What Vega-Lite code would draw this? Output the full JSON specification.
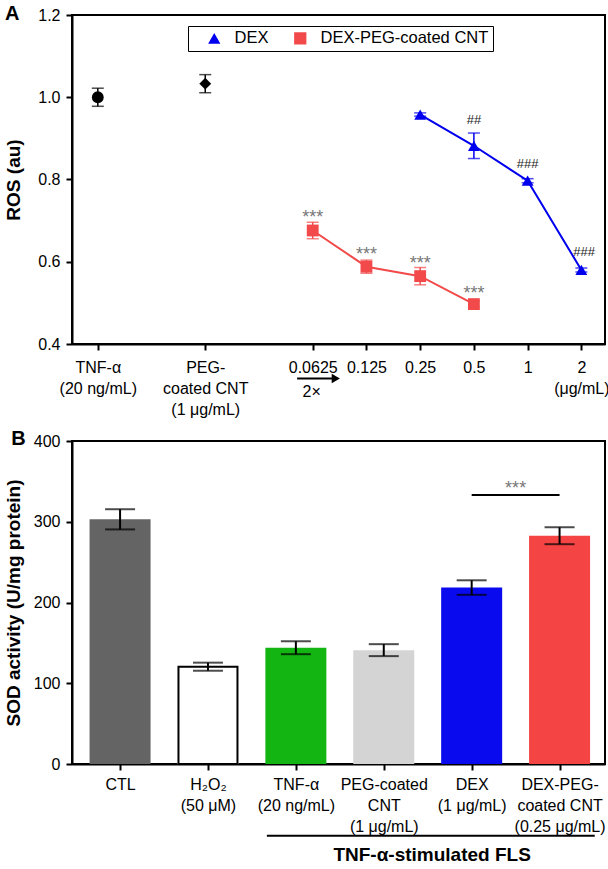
{
  "$schema": "https://vega.github.io/schema/vega-lite/v6.json",
  "background": "white",
  "padding": {"left": 3, "top": 2, "right": 0, "bottom": 0},
  "bounds": "flush",
  "spacing": 97,
  "resolve": {"scale": {"color": "independent", "shape": "independent"}},
  "config": {
    "font": "Liberation Sans",
    "view": {"stroke": "black", "strokeWidth": 2},
    "axis": {
      "domainColor": "black", "domainWidth": 2, "tickColor": "black", "tickWidth": 2, "tickSize": 6,
      "labelFont": "Liberation Sans", "labelFontSize": 16, "labelColor": "black", "labelPadding": 5,
      "labelLineHeight": 21, "labelOverlap": false, "labelFlush": false, "labelBound": false,
      "titleFont": "Liberation Sans", "titleFontSize": 19, "titleFontWeight": "bold", "titleColor": "black",
      "grid": false
    },
    "legend": {
      "labelFont": "Liberation Sans", "labelFontSize": 16.5, "labelColor": "black", "labelLimit": 300
    }
  },
  "datasets": {
    "ros": [
      {"pos": 0, "ros": 1.000, "sd": 0.022, "series": "TNF-α"},
      {"pos": 2, "ros": 1.033, "sd": 0.022, "series": "PEG-coated CNT"},
      {"pos": 6, "ros": 0.958, "sd": 0.004, "series": "DEX"},
      {"pos": 7, "ros": 0.882, "sd": 0.031, "series": "DEX"},
      {"pos": 8, "ros": 0.797, "sd": 0.005, "series": "DEX"},
      {"pos": 9, "ros": 0.580, "sd": 0.005, "series": "DEX"},
      {"pos": 4, "ros": 0.676, "sd": 0.020, "series": "DEX-PEG-coated CNT"},
      {"pos": 5, "ros": 0.588, "sd": 0.016, "series": "DEX-PEG-coated CNT"},
      {"pos": 6, "ros": 0.565, "sd": 0.021, "series": "DEX-PEG-coated CNT"},
      {"pos": 7, "ros": 0.497, "sd": 0.008, "series": "DEX-PEG-coated CNT"}
    ],
    "hash": [
      {"pos": 7, "y": 0.945, "label": "##"},
      {"pos": 8, "y": 0.838, "label": "###"},
      {"pos": 9.05, "y": 0.623, "label": "###"}
    ],
    "star": [
      {"pos": 4, "y": 0.706, "label": "***"},
      {"pos": 5, "y": 0.617, "label": "***"},
      {"pos": 6, "y": 0.595, "label": "***"},
      {"pos": 7, "y": 0.522, "label": "***"}
    ],
    "arrow": [{"x": 3.71, "x2": 4.42, "y": 0.316, "head": 4.43, "tx": 3.98, "ty": 0.283, "label": "2×"}],
    "panelA": [{"x": -1.728, "y": 1.188, "label": "A"}],
    "sod": [
      {"pos": 0, "group": "CTL", "sod": 303, "sd": 12.5},
      {"pos": 1, "group": "H2O2", "sod": 120.5, "sd": 5},
      {"pos": 2, "group": "TNF-α", "sod": 144, "sd": 8},
      {"pos": 3, "group": "PEG-coated CNT", "sod": 141, "sd": 7.4},
      {"pos": 4, "group": "DEX", "sod": 218.5, "sd": 9},
      {"pos": 5, "group": "DEX-PEG-coated CNT", "sod": 282.7, "sd": 10.5}
    ],
    "sig": [{"x": 4, "x2": 5, "y": 333, "tx": 4.5, "ty": 340, "label": "***"}],
    "bracket": [{"x": 1.67, "x2": 5.4, "y": -89, "tx": 3.55, "ty": -113, "label": "TNF-α-stimulated FLS"}],
    "panelB": [{"x": -1.238, "y": 395, "label": "B"}]
  },
  "vconcat": [
    {
      "width": 533,
      "height": 329,
      "layer": [
        {
          "data": {"name": "ros"},
          "transform": [{"filter": "datum.series == 'DEX'"}],
          "mark": {"type": "line", "strokeWidth": 2, "color": "#0000ee"},
          "encoding": {
            "x": {"field": "pos", "type": "quantitative", "title": null,
              "scale": {"domain": [-0.48, 9.44], "nice": false, "zero": false},
              "axis": {"values": [0, 2, 4, 5, 6, 7, 8, 9], "title": null, "labelPadding": 9,
                "labelExpr": "datum.value == 0 ? ['TNF-α', '(20 ng/mL)'] : datum.value == 2 ? ['PEG-', 'coated CNT', '(1 μg/mL)'] : datum.value == 4 ? '0.0625' : datum.value == 5 ? '0.125' : datum.value == 6 ? '0.25' : datum.value == 7 ? '0.5' : datum.value == 8 ? '1' : ['2', '(μg/mL)']"}},
            "y": {"field": "ros", "type": "quantitative", "title": "ROS (au)",
              "scale": {"domain": [0.4, 1.2], "nice": false, "zero": false},
              "axis": {"values": [0.4, 0.6, 0.8, 1.0, 1.2], "format": ".1f", "title": "ROS (au)", "labelPadding": 6, "titlePadding": 14}}
          }
        },
        {
          "data": {"name": "ros"},
          "transform": [{"filter": "datum.series == 'DEX-PEG-coated CNT'"}],
          "mark": {"type": "line", "strokeWidth": 2, "color": "#f24a4a"},
          "encoding": {
            "x": {"field": "pos", "type": "quantitative", "title": null},
            "y": {"field": "ros", "type": "quantitative", "title": "ROS (au)"}
          }
        },
        {
          "data": {"name": "ros"},
          "mark": {"type": "point", "filled": true, "size": 140, "opacity": 1},
          "encoding": {
            "x": {"field": "pos", "type": "quantitative", "title": null},
            "y": {"field": "ros", "type": "quantitative", "title": "ROS (au)"},
            "color": {"field": "series", "type": "nominal",
              "scale": {"domain": ["DEX", "DEX-PEG-coated CNT", "TNF-α", "PEG-coated CNT"], "range": ["#0000ee", "#f24a4a", "black", "black"]},
              "legend": {"values": ["DEX", "DEX-PEG-coated CNT"], "title": null, "orient": "none", "legendX": 116, "legendY": 11, "direction": "horizontal", "strokeColor": "black", "padding": 4, "symbolSize": 150, "symbolOffset": 14, "labelOffset": 12, "columnPadding": 9}},
            "shape": {"field": "series", "type": "nominal",
              "scale": {"domain": ["DEX", "DEX-PEG-coated CNT", "TNF-α", "PEG-coated CNT"], "range": ["triangle-up", "square", "circle", "diamond"]},
              "legend": {"values": ["DEX", "DEX-PEG-coated CNT"], "title": null, "orient": "none", "legendX": 116, "legendY": 11, "direction": "horizontal", "strokeColor": "black", "padding": 4, "symbolSize": 150, "symbolOffset": 14, "labelOffset": 12, "columnPadding": 9}}
          }
        },
        {
          "data": {"name": "ros"},
          "transform": [{"filter": "datum.series == 'DEX'"}],
          "mark": {"type": "errorbar", "ticks": {"size": 12}, "thickness": 1.5, "color": "#0000ee"},
          "encoding": {
            "x": {"field": "pos", "type": "quantitative", "title": null},
            "y": {"field": "ros", "type": "quantitative", "title": "ROS (au)"},
            "yError": {"field": "sd"}
          }
        },
        {
          "data": {"name": "ros"},
          "transform": [{"filter": "datum.series == 'DEX-PEG-coated CNT'"}],
          "mark": {"type": "errorbar", "ticks": {"size": 12}, "thickness": 1.5, "color": "#f24a4a"},
          "encoding": {
            "x": {"field": "pos", "type": "quantitative", "title": null},
            "y": {"field": "ros", "type": "quantitative", "title": "ROS (au)"},
            "yError": {"field": "sd"}
          }
        },
        {
          "data": {"name": "ros"},
          "transform": [{"filter": "datum.series == 'TNF-α' || datum.series == 'PEG-coated CNT'"}],
          "mark": {"type": "errorbar", "ticks": {"size": 12}, "thickness": 1.5, "color": "black"},
          "encoding": {
            "x": {"field": "pos", "type": "quantitative", "title": null},
            "y": {"field": "ros", "type": "quantitative", "title": "ROS (au)"},
            "yError": {"field": "sd"}
          }
        },
        {
          "data": {"name": "hash"},
          "mark": {"type": "text", "fontSize": 13, "color": "#222222", "baseline": "middle"},
          "encoding": {
            "x": {"field": "pos", "type": "quantitative", "title": null},
            "y": {"field": "y", "type": "quantitative", "title": "ROS (au)"},
            "text": {"field": "label"}
          }
        },
        {
          "data": {"name": "star"},
          "mark": {"type": "text", "fontSize": 18, "color": "#777777", "baseline": "middle"},
          "encoding": {
            "x": {"field": "pos", "type": "quantitative", "title": null},
            "y": {"field": "y", "type": "quantitative", "title": "ROS (au)"},
            "text": {"field": "label"}
          }
        },
        {
          "data": {"name": "arrow"},
          "mark": {"type": "rule", "strokeWidth": 2, "color": "black"},
          "encoding": {
            "x": {"field": "x", "type": "quantitative", "title": null},
            "x2": {"field": "x2"},
            "y": {"field": "y", "type": "quantitative", "title": "ROS (au)"}
          }
        },
        {
          "data": {"name": "arrow"},
          "mark": {"type": "point", "shape": "triangle-right", "filled": true, "size": 90, "color": "black", "opacity": 1},
          "encoding": {
            "x": {"field": "head", "type": "quantitative", "title": null},
            "y": {"field": "y", "type": "quantitative", "title": "ROS (au)"}
          }
        },
        {
          "data": {"name": "arrow"},
          "mark": {"type": "text", "fontSize": 16, "color": "black", "baseline": "middle"},
          "encoding": {
            "x": {"field": "tx", "type": "quantitative", "title": null},
            "y": {"field": "ty", "type": "quantitative", "title": "ROS (au)"},
            "text": {"field": "label"}
          }
        },
        {
          "data": {"name": "panelA"},
          "mark": {"type": "text", "fontSize": 20, "fontWeight": "bold", "color": "black", "align": "left", "baseline": "alphabetic"},
          "encoding": {
            "x": {"field": "x", "type": "quantitative", "title": null},
            "y": {"field": "y", "type": "quantitative", "title": "ROS (au)"},
            "text": {"field": "label"}
          }
        }
      ]
    },
    {
      "width": 533,
      "height": 323,
      "layer": [
        {
          "data": {"name": "sod"},
          "mark": {"type": "bar", "width": 61},
          "encoding": {
            "x": {"field": "pos", "type": "quantitative", "title": null,
              "scale": {"domain": [-0.49, 5.46], "nice": false, "zero": false},
              "axis": {"values": [0, 1, 2, 3, 4, 5], "title": null, "labelPadding": 6,
                "labelExpr": "datum.value == 0 ? 'CTL' : datum.value == 1 ? ['H₂O₂', '(50 μM)'] : datum.value == 2 ? ['TNF-α', '(20 ng/mL)'] : datum.value == 3 ? ['PEG-coated', 'CNT', '(1 μg/mL)'] : datum.value == 4 ? ['DEX', '(1 μg/mL)'] : ['DEX-PEG-', 'coated CNT', '(0.25 μg/mL)']"}},
            "y": {"field": "sod", "type": "quantitative", "title": "SOD activity (U/mg protein)",
              "scale": {"domain": [0, 400], "nice": false},
              "axis": {"values": [0, 100, 200, 300, 400], "title": "SOD activity (U/mg protein)", "labelPadding": 6, "titlePadding": 10}},
            "color": {"field": "group", "type": "nominal",
              "scale": {"domain": ["CTL", "H2O2", "TNF-α", "PEG-coated CNT", "DEX", "DEX-PEG-coated CNT"], "range": ["#646464", "white", "#12b512", "#d4d4d4", "#0a0aee", "#f54444"]},
              "legend": null}
          }
        },
        {
          "data": {"name": "sod"},
          "transform": [{"filter": "datum.group == 'H2O2'"}],
          "mark": {"type": "bar", "width": 59, "fill": "white", "stroke": "black", "strokeWidth": 2},
          "encoding": {
            "x": {"field": "pos", "type": "quantitative", "title": null},
            "y": {"field": "sod", "type": "quantitative", "title": "SOD activity (U/mg protein)"}
          }
        },
        {
          "data": {"name": "sod"},
          "mark": {"type": "errorbar", "ticks": {"size": 30}, "thickness": 2, "color": "black"},
          "encoding": {
            "x": {"field": "pos", "type": "quantitative", "title": null},
            "y": {"field": "sod", "type": "quantitative", "title": "SOD activity (U/mg protein)"},
            "yError": {"field": "sd"}
          }
        },
        {
          "data": {"name": "sig"},
          "mark": {"type": "rule", "strokeWidth": 2, "color": "black"},
          "encoding": {
            "x": {"field": "x", "type": "quantitative", "title": null},
            "x2": {"field": "x2"},
            "y": {"field": "y", "type": "quantitative", "title": "SOD activity (U/mg protein)"}
          }
        },
        {
          "data": {"name": "sig"},
          "mark": {"type": "text", "fontSize": 18, "color": "#777777", "baseline": "middle"},
          "encoding": {
            "x": {"field": "tx", "type": "quantitative", "title": null},
            "y": {"field": "ty", "type": "quantitative", "title": "SOD activity (U/mg protein)"},
            "text": {"field": "label"}
          }
        },
        {
          "data": {"name": "bracket"},
          "mark": {"type": "rule", "strokeWidth": 2, "color": "black"},
          "encoding": {
            "x": {"field": "x", "type": "quantitative", "title": null},
            "x2": {"field": "x2"},
            "y": {"field": "y", "type": "quantitative", "title": "SOD activity (U/mg protein)"}
          }
        },
        {
          "data": {"name": "bracket"},
          "mark": {"type": "text", "fontSize": 19, "fontWeight": "bold", "color": "black", "baseline": "middle"},
          "encoding": {
            "x": {"field": "tx", "type": "quantitative", "title": null},
            "y": {"field": "ty", "type": "quantitative", "title": "SOD activity (U/mg protein)"},
            "text": {"field": "label"}
          }
        },
        {
          "data": {"name": "panelB"},
          "mark": {"type": "text", "fontSize": 20, "fontWeight": "bold", "color": "black", "align": "left", "baseline": "alphabetic"},
          "encoding": {
            "x": {"field": "x", "type": "quantitative", "title": null},
            "y": {"field": "y", "type": "quantitative", "title": "SOD activity (U/mg protein)"},
            "text": {"field": "label"}
          }
        }
      ]
    }
  ]
}
